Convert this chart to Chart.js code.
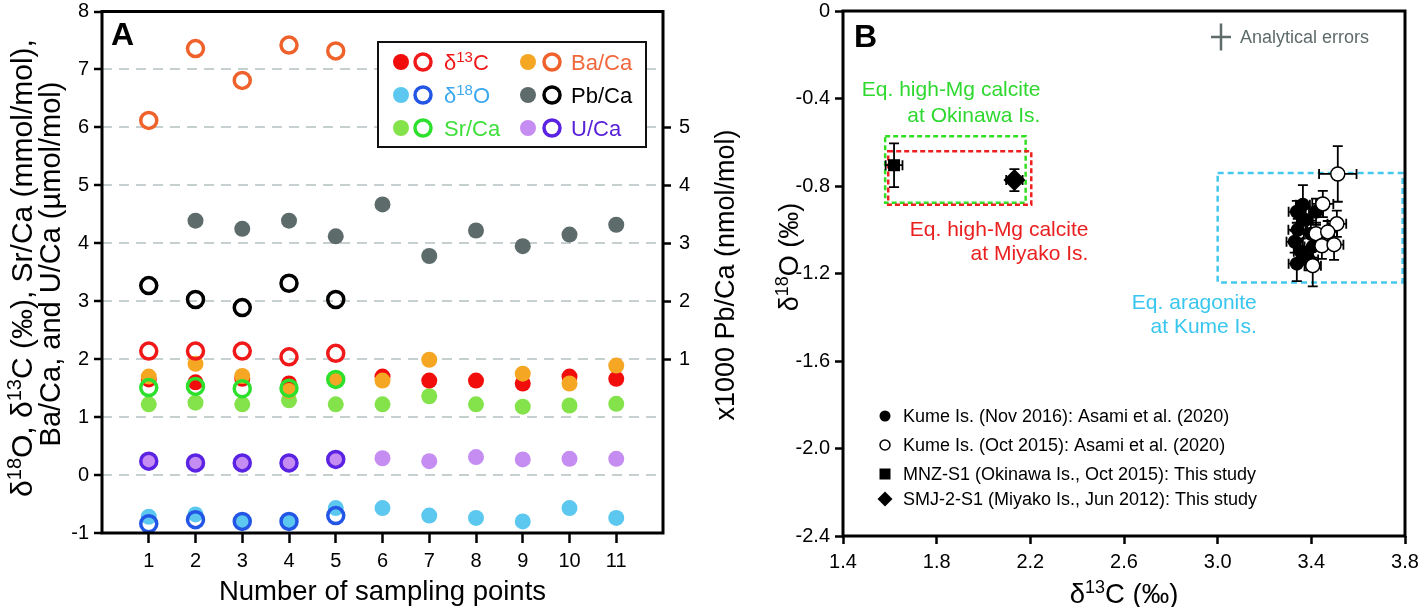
<!DOCTYPE html>
<html lang="en">
<head>
<meta charset="UTF-8" />
<title>Sampling points and isotope plot</title>
<script src="https://cdn.jsdelivr.net/npm/chart.js@4.4.1/dist/chart.umd.min.js"></script>
<style>
  body { margin: 0; background: #fff; }
  #wrap { display: flex; width: 1418px; height: 607px; }
  canvas { display: block; }
</style>
</head>
<body>
<div id="wrap">
  <canvas id="chartA" width="760" height="607"></canvas>
  <canvas id="chartB" width="658" height="607"></canvas>
</div>
<script>
const FONT = "'Liberation Sans', Arial, sans-serif";
Chart.defaults.font.family = FONT;
Chart.defaults.color = "#000";

// ---- panel A data ----
const samplePoints = [1, 2, 3, 4, 5, 6, 7, 8, 9, 10, 11];
const yTicksA = [-1, 0, 1, 2, 3, 4, 5, 6, 7, 8];
const pbTicks = [1, 2, 3, 4, 5];

const d13cFilled = [1.65, 1.60, 1.66, 1.58, 1.63, 1.70, 1.63, 1.63, 1.58, 1.70, 1.66];
const d13cOpen = [2.14, 2.14, 2.14, 2.04, 2.10];
const d18oFilled = [-0.72, -0.68, -0.80, -0.80, -0.57, -0.57, -0.70, -0.74, -0.80, -0.57, -0.74];
const d18oOpen = [-0.84, -0.77, -0.80, -0.80, -0.70];
const srCaFilled = [1.22, 1.25, 1.22, 1.29, 1.22, 1.22, 1.36, 1.22, 1.18, 1.20, 1.23];
const srCaOpen = [1.51, 1.53, 1.49, 1.50, 1.65];
const baCaFilled = [1.70, 1.92, 1.71, 1.45, 1.63, 1.63, 1.99, null, 1.75, 1.58, 1.89];
const baCaOpen = [6.12, 7.36, 6.81, 7.42, 7.32];
const uCaFilled = [0.24, 0.22, 0.22, 0.21, 0.27, 0.29, 0.24, 0.31, 0.27, 0.28, 0.28];
const uCaOpen = [0.24, 0.21, 0.21, 0.21, 0.27];
const pbCaFilled = [null, 3.39, 3.25, 3.39, 3.12, 3.67, 2.78, 3.22, 2.95, 3.15, 3.32];
const pbCaOpen = [2.27, 2.03, 1.89, 2.31, 2.03];

// ---- panel B data ----
const xTicksB = [1.4, 1.8, 2.2, 2.6, 3.0, 3.4, 3.8];
const yTicksB = [0, -0.4, -0.8, -1.2, -1.6, -2.0, -2.4];

const kumeNovX = [3.364, 3.338, 3.376, 3.342, 3.398, 3.329, 3.355, 3.389, 3.338, 3.42, 3.406];
const kumeNovY = [-0.886, -0.918, -0.955, -1.0, -1.018, -1.055, -1.1, -1.136, -1.155, -0.918, -1.077];
const kumeNovXErr = [0.03, 0.035, 0.03, 0.04, 0.03, 0.035, 0.03, 0.04, 0.035, 0.03, 0.035];
const kumeNovYErr = [0.09, 0.05, 0.06, 0.05, 0.06, 0.05, 0.06, 0.05, 0.08, 0.06, 0.05];

const kumeOctX = [3.513, 3.449, 3.509, 3.42, 3.47, 3.445, 3.497, 3.406];
const kumeOctY = [-0.745, -0.882, -0.973, -1.018, -1.01, -1.073, -1.068, -1.164];
const kumeOctXErr = [0.08, 0.045, 0.04, 0.035, 0.04, 0.04, 0.04, 0.035];
const kumeOctYErr = [0.127, 0.06, 0.06, 0.05, 0.05, 0.06, 0.07, 0.095];

const mnzX = [1.618], mnzY = [-0.705], mnzXErr = [0.036], mnzYErr = [0.10];
const smjX = [2.132], smjY = [-0.773], smjXErr = [0.035], smjYErr = [0.05];

// [x1, x2, y1, y2]
const okinawaBox = [1.58, 2.18, -0.573, -0.877];
const miyakoBox = [1.593, 2.204, -0.641, -0.886];
const kumeBox = [3.0, 3.79, -0.741, -1.241];

// draws text with superscript parts: [[text, isSup], ...]
function richText(ctx, parts, x, y, size, align, color, weight) {
  const supSize = Math.round(size * 0.66);
  const w = weight || "normal";
  let total = 0;
  parts.forEach(([t, sup]) => {
    ctx.font = `${w} ${sup ? supSize : size}px ${FONT}`;
    total += ctx.measureText(t).width;
  });
  let cx = align === "center" ? x - total / 2 : align === "right" ? x - total : x;
  const base = y + size * 0.36;
  ctx.fillStyle = color;
  ctx.textAlign = "left";
  ctx.textBaseline = "alphabetic";
  parts.forEach(([t, sup]) => {
    ctx.font = `${w} ${sup ? supSize : size}px ${FONT}`;
    ctx.fillText(t, cx, sup ? base - size * 0.36 : base);
    cx += ctx.measureText(t).width;
  });
}

function rotText(ctx, parts, x, y, size, color) {
  ctx.save();
  ctx.translate(x, y);
  ctx.rotate(-Math.PI / 2);
  richText(ctx, parts, 0, 0, size, "center", color);
  ctx.restore();
}

const framePlugin = {
  id: "frame",
  afterDraw(chart) {
    const { ctx, chartArea: a } = chart;
    ctx.save();
    ctx.lineWidth = 3;
    ctx.strokeStyle = "#000";
    ctx.strokeRect(a.left, a.top, a.right - a.left, a.bottom - a.top);
    ctx.restore();
  }
};

// keep label overflow from pushing the plot area around
const noPadY = (w) => (ax) => { ax.width = w; ax.paddingTop = 0; ax.paddingBottom = 0; };
const noPadX = (h) => (ax) => { ax.height = h; ax.paddingLeft = 0; ax.paddingRight = 0; };

// ---- panel A ----
const seriesA = [
  { name: [["δ", 0], ["13", 1], ["C", 0]], fill: "#f20d0d", ring: "#f01818", text: "#f01818" },
  { name: [["δ", 0], ["18", 1], ["O", 0]], fill: "#5cc8f0", ring: "#2456e6", text: "#3aa8ee" },
  { name: [["Sr/Ca", 0]], fill: "#84e24a", ring: "#2ee02e", text: "#3ee03a" },
  { name: [["Ba/Ca", 0]], fill: "#f5a623", ring: "#f0622c", text: "#f0683c" },
  { name: [["Pb/Ca", 0]], fill: "#5d6b6b", ring: "#000000", text: "#000000" },
  { name: [["U/Ca", 0]], fill: "#c58cf2", ring: "#5a22e2", text: "#5a22d8" }
];

function toPts(vals) {
  return vals.map((v, i) => (v == null ? null : { x: samplePoints[i], y: v })).filter(Boolean);
}
function filledSet(vals, s, axis) {
  return {
    data: toPts(vals), yAxisID: axis || "y",
    pointRadius: 8, pointHoverRadius: 8, pointBorderWidth: 0,
    pointBackgroundColor: s.fill, pointBorderColor: s.fill
  };
}
function openSet(vals, s, axis) {
  return {
    data: toPts(vals), yAxisID: axis || "y",
    pointRadius: 8, pointHoverRadius: 8, pointBorderWidth: 3.5,
    pointBackgroundColor: "rgba(0,0,0,0)", pointBorderColor: s.ring
  };
}

const legendAPlugin = {
  id: "legendA",
  afterDatasetsDraw(chart) {
    const ctx = chart.ctx;
    ctx.save();
    ctx.fillStyle = "#fff";
    ctx.fillRect(378, 42, 268, 105);
    ctx.lineWidth = 2;
    ctx.strokeStyle = "#111";
    ctx.strokeRect(378, 42, 268, 105);
    const rows = [62, 95, 128];
    const cols = [[401, 423, 444], [528, 552, 571]];
    seriesA.forEach((s, i) => {
      const c = cols[Math.floor(i / 3)], y = rows[i % 3];
      ctx.beginPath();
      ctx.arc(c[0], y, 8, 0, Math.PI * 2);
      ctx.fillStyle = s.fill;
      ctx.fill();
      ctx.beginPath();
      ctx.arc(c[1], y, 8, 0, Math.PI * 2);
      ctx.lineWidth = 3.5;
      ctx.strokeStyle = s.ring;
      ctx.stroke();
      richText(ctx, s.name, c[2], y, 22, "left", s.text);
    });
    richText(ctx, [["A", 0]], 111, 33, 32, "left", "#000", "bold");
    ctx.restore();
  },
  afterDraw(chart) {
    const ctx = chart.ctx;
    const a = chart.chartArea;
    rotText(ctx, [["δ", 0], ["18", 1], ["O, δ", 0], ["13", 1], ["C (‰), Sr/Ca (mmol/mol),", 0]], 21, 268, 30, "#000");
    rotText(ctx, [["Ba/Ca, and U/Ca (µmol/mol)", 0]], 50, 264, 29, "#000");
    rotText(ctx, [["x1000 Pb/Ca (nmol/mol)", 0]], 724, 275, 27, "#000");
    richText(ctx, [["Number of sampling points", 0]], (a.left + a.right) / 2, 590, 27.5, "center", "#000");
  }
};

new Chart(document.getElementById("chartA"), {
  type: "scatter",
  data: {
    datasets: [
      openSet(baCaOpen, seriesA[3]),
      openSet(pbCaOpen, seriesA[4], "y2"),
      openSet(d13cOpen, seriesA[0]),
      openSet(srCaOpen, seriesA[2]),
      openSet(uCaOpen, seriesA[5]),
      openSet(d18oOpen, seriesA[1]),
      filledSet(baCaFilled, seriesA[3]),
      filledSet(d13cFilled, seriesA[0]),
      filledSet(srCaFilled, seriesA[2]),
      filledSet(uCaFilled, seriesA[5]),
      filledSet(d18oFilled, seriesA[1]),
      filledSet(pbCaFilled, seriesA[4], "y2")
    ]
  },
  options: {
    responsive: false,
    animation: false,
    layout: { padding: { top: 8, right: 0, left: 0, bottom: 0 } },
    plugins: { legend: { display: false }, tooltip: { enabled: false } },
    scales: {
      x: {
        type: "linear", min: 0, max: 12,
        afterBuildTicks: (ax) => { ax.ticks = samplePoints.map((v) => ({ value: v })); },
        afterFit: noPadX(74),
        grid: { drawOnChartArea: false, tickLength: 10, tickWidth: 2.5, tickColor: "#000" },
        border: { display: false },
        ticks: { font: { size: 20 }, color: "#000", padding: 6, maxRotation: 0, autoSkip: false }
      },
      y: {
        position: "left", min: -1, max: 8,
        afterBuildTicks: (ax) => { ax.ticks = yTicksA.map((v) => ({ value: v })); },
        afterFit: noPadY(102),
        grid: {
          color: (c) => (c.tick && c.tick.value >= 0 && c.tick.value <= 7 ? "#c6d0d0" : "rgba(0,0,0,0)"),
          lineWidth: 2, tickLength: 8, tickWidth: 2.5, tickColor: "#000"
        },
        border: { display: false, dash: [10, 7] },
        ticks: { font: { size: 20 }, color: "#000", padding: 5, autoSkip: false }
      },
      y2: {
        position: "right", min: -2, max: 7,
        afterBuildTicks: (ax) => { ax.ticks = pbTicks.map((v) => ({ value: v })); },
        afterFit: noPadY(97),
        grid: { drawOnChartArea: false, tickLength: 8, tickWidth: 2.5, tickColor: "#000" },
        border: { display: false },
        ticks: { font: { size: 20 }, color: "#000", padding: 8, autoSkip: false }
      }
    }
  },
  plugins: [legendAPlugin, framePlugin]
});

// ---- panel B ----
function xyPts(xs, ys) {
  return xs.map((x, i) => ({ x: x, y: ys[i] }));
}

const boxesPlugin = {
  id: "boxesB",
  beforeDatasetsDraw(chart) {
    const { ctx, scales: { x, y } } = chart;
    const drawBox = (b, color, dash) => {
      ctx.save();
      ctx.setLineDash(dash);
      ctx.lineWidth = 2.5;
      ctx.strokeStyle = color;
      const x1 = x.getPixelForValue(b[0]), x2 = x.getPixelForValue(b[1]);
      const y1 = y.getPixelForValue(b[2]), y2 = y.getPixelForValue(b[3]);
      ctx.strokeRect(x1, y1, x2 - x1, y2 - y1);
      ctx.restore();
    };
    drawBox(kumeBox, "#44c8ee", [6, 4]);
    drawBox(okinawaBox, "#33dd22", [5, 3]);
    drawBox(miyakoBox, "#ee2020", [5, 3]);

    // error bars
    ctx.save();
    ctx.strokeStyle = "#000";
    ctx.lineWidth = 1.8;
    chart.data.datasets.forEach((ds) => {
      ds.data.forEach((p, i) => {
        const px = x.getPixelForValue(p.x), py = y.getPixelForValue(p.y);
        const xa = x.getPixelForValue(p.x - ds.xErr[i]), xb = x.getPixelForValue(p.x + ds.xErr[i]);
        const ya = y.getPixelForValue(p.y + ds.yErr[i]), yb = y.getPixelForValue(p.y - ds.yErr[i]);
        ctx.beginPath();
        ctx.moveTo(xa, py); ctx.lineTo(xb, py);
        ctx.moveTo(xa, py - 5); ctx.lineTo(xa, py + 5);
        ctx.moveTo(xb, py - 5); ctx.lineTo(xb, py + 5);
        ctx.moveTo(px, ya); ctx.lineTo(px, yb);
        ctx.moveTo(px - 5, ya); ctx.lineTo(px + 5, ya);
        ctx.moveTo(px - 5, yb); ctx.lineTo(px + 5, yb);
        ctx.stroke();
      });
    });
    ctx.restore();
  },
  afterDatasetsDraw(chart) {
    const { ctx, scales: { x, y } } = chart;
    ctx.save();
    // region labels
    richText(ctx, [["Eq. high-Mg calcite", 0]], x.getPixelForValue(2.243), y.getPixelForValue(-0.355), 21, "right", "#2fd82f");
    richText(ctx, [["at Okinawa Is.", 0]], x.getPixelForValue(2.243), y.getPixelForValue(-0.473), 21, "right", "#2fd82f");
    richText(ctx, [["Eq. high-Mg calcite", 0]], x.getPixelForValue(2.448), y.getPixelForValue(-0.995), 21, "right", "#ea2020");
    richText(ctx, [["at Miyako Is.", 0]], x.getPixelForValue(2.448), y.getPixelForValue(-1.105), 21, "right", "#ea2020");
    richText(ctx, [["Eq. aragonite", 0]], x.getPixelForValue(3.167), y.getPixelForValue(-1.327), 21, "right", "#38c6ee");
    richText(ctx, [["at Kume Is.", 0]], x.getPixelForValue(3.167), y.getPixelForValue(-1.436), 21, "right", "#38c6ee");

    // analytical errors key
    ctx.strokeStyle = "#5f6b6b";
    ctx.lineWidth = 2.5;
    ctx.beginPath();
    ctx.moveTo(451, 37); ctx.lineTo(471, 37);
    ctx.moveTo(461, 23.5); ctx.lineTo(461, 50.5);
    ctx.stroke();
    richText(ctx, [["Analytical errors", 0]], 480, 37, 18, "left", "#5f6b6b");

    // legend
    const mx = 125, tx = 143;
    const rows = [416, 445, 474, 499];
    ctx.fillStyle = "#000";
    ctx.beginPath(); ctx.arc(mx, rows[0], 5.5, 0, Math.PI * 2); ctx.fill();
    ctx.beginPath(); ctx.arc(mx, rows[1], 5, 0, Math.PI * 2);
    ctx.lineWidth = 1.5; ctx.strokeStyle = "#000"; ctx.stroke();
    ctx.fillRect(mx - 5.5, rows[2] - 5.5, 11, 11);
    ctx.beginPath();
    ctx.moveTo(mx, rows[3] - 7.5); ctx.lineTo(mx + 7.5, rows[3]);
    ctx.lineTo(mx, rows[3] + 7.5); ctx.lineTo(mx - 7.5, rows[3]);
    ctx.closePath(); ctx.fill();
    const labels = [
      "Kume Is. (Nov 2016): Asami et al. (2020)",
      "Kume Is. (Oct 2015): Asami et al. (2020)",
      "MNZ-S1 (Okinawa Is., Oct 2015): This study",
      "SMJ-2-S1 (Miyako Is., Jun 2012): This study"
    ];
    labels.forEach((t, i) => richText(ctx, [[t, 0]], tx, rows[i], 18, "left", "#000"));
    richText(ctx, [["B", 0]], 94, 35, 32, "left", "#000", "bold");
    ctx.restore();
  },
  afterDraw(chart) {
    const ctx = chart.ctx;
    const a = chart.chartArea;
    rotText(ctx, [["δ", 0], ["18", 1], ["O (‰)", 0]], 28, 257, 27, "#000");
    richText(ctx, [["δ", 0], ["13", 1], ["C (‰)", 0]], (a.left + a.right) / 2, 593, 27.5, "center", "#000");
  }
};

new Chart(document.getElementById("chartB"), {
  type: "scatter",
  data: {
    datasets: [
      {
        data: xyPts(mnzX, mnzY), xErr: mnzXErr, yErr: mnzYErr,
        pointStyle: "rect", pointRadius: 8.5, pointHoverRadius: 8.5, pointBorderWidth: 0,
        pointBackgroundColor: "#000", pointBorderColor: "#000"
      },
      {
        data: xyPts(smjX, smjY), xErr: smjXErr, yErr: smjYErr,
        pointStyle: "rectRot", pointRadius: 11, pointHoverRadius: 11, pointBorderWidth: 0,
        pointBackgroundColor: "#000", pointBorderColor: "#000"
      },
      {
        data: xyPts(kumeOctX, kumeOctY), xErr: kumeOctXErr, yErr: kumeOctYErr,
        pointRadius: 7, pointHoverRadius: 7, pointBorderWidth: 1.5,
        pointBackgroundColor: "#fff", pointBorderColor: "#000"
      },
      {
        data: xyPts(kumeNovX, kumeNovY), xErr: kumeNovXErr, yErr: kumeNovYErr,
        pointRadius: 7, pointHoverRadius: 7, pointBorderWidth: 0,
        pointBackgroundColor: "#000", pointBorderColor: "#000"
      }
    ]
  },
  options: {
    responsive: false,
    animation: false,
    layout: { padding: { top: 8, right: 13, left: 0, bottom: 0 } },
    plugins: { legend: { display: false }, tooltip: { enabled: false } },
    scales: {
      x: {
        type: "linear", min: 1.4, max: 3.8,
        afterBuildTicks: (ax) => { ax.ticks = xTicksB.map((v) => ({ value: v })); },
        afterFit: noPadX(71),
        grid: { drawOnChartArea: false, tickLength: 8, tickWidth: 2.5, tickColor: "#000" },
        border: { display: false },
        ticks: { font: { size: 20 }, color: "#000", padding: 6, maxRotation: 0, autoSkip: false,
                 callback: (v) => v.toFixed(1) }
      },
      y: {
        min: -2.4, max: 0,
        afterBuildTicks: (ax) => { ax.ticks = yTicksB.map((v) => ({ value: v })); },
        afterFit: noPadY(83),
        grid: { drawOnChartArea: false, tickLength: 8, tickWidth: 2.5, tickColor: "#000" },
        border: { display: false },
        ticks: { font: { size: 20 }, color: "#000", padding: 5, autoSkip: false,
                 callback: (v) => (v === 0 ? "0" : v.toFixed(1)) }
      }
    }
  },
  plugins: [boxesPlugin, framePlugin]
});
</script>
</body>
</html>
